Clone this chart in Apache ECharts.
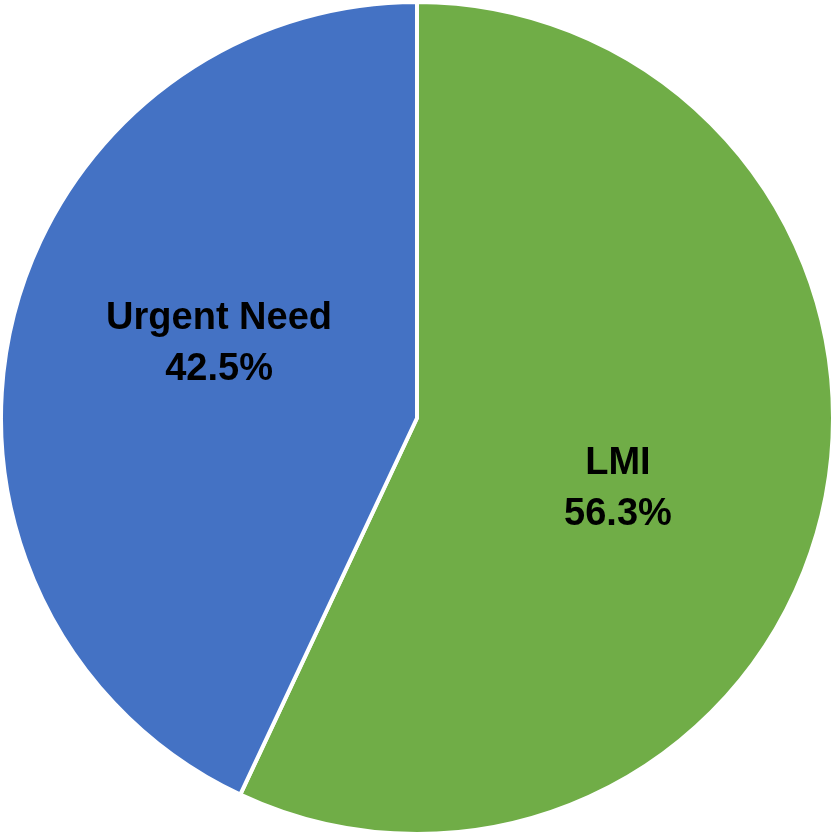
<!DOCTYPE html>
<html>
<head>
<meta charset="utf-8">
<script src="https://cdn.jsdelivr.net/npm/echarts@6/dist/echarts.min.js"></script>
<style>html,body{margin:0;padding:0;background:#fff;}#c{width:835px;height:835px;}</style>
</head>
<body>
<div id="c"></div>
<script>
const categories = ['LMI', 'Urgent Need'];
const values = [56.3, 42.5];
const colors = ['#70AD47', '#4472C4'];
const labelOffsets = [[-5, 25], [8, -28]];

const chart = echarts.init(document.getElementById('c'), null, {renderer: 'canvas'});
chart.setOption({
  animation: false,
  series: [{
    type: 'pie',
    center: [417, 418],
    radius: [0, 416],
    startAngle: 90,
    clockwise: true,
    data: categories.map((n, i) => ({
      name: n, value: values[i],
      itemStyle: {color: colors[i]},
      label: {offset: labelOffsets[i]}
    })),
    itemStyle: {borderColor: '#fff', borderWidth: 4},
    label: {
      show: true,
      position: 'inside',
      formatter: p => p.name + '\n' + p.value.toFixed(1) + '%',
      fontFamily: 'Liberation Sans',
      fontWeight: 'bold',
      fontSize: 38,
      lineHeight: 51,
      color: '#000'
    },
    labelLine: {show: false},
    emphasis: {disabled: true}
  }]
});
</script>
</body>
</html>
